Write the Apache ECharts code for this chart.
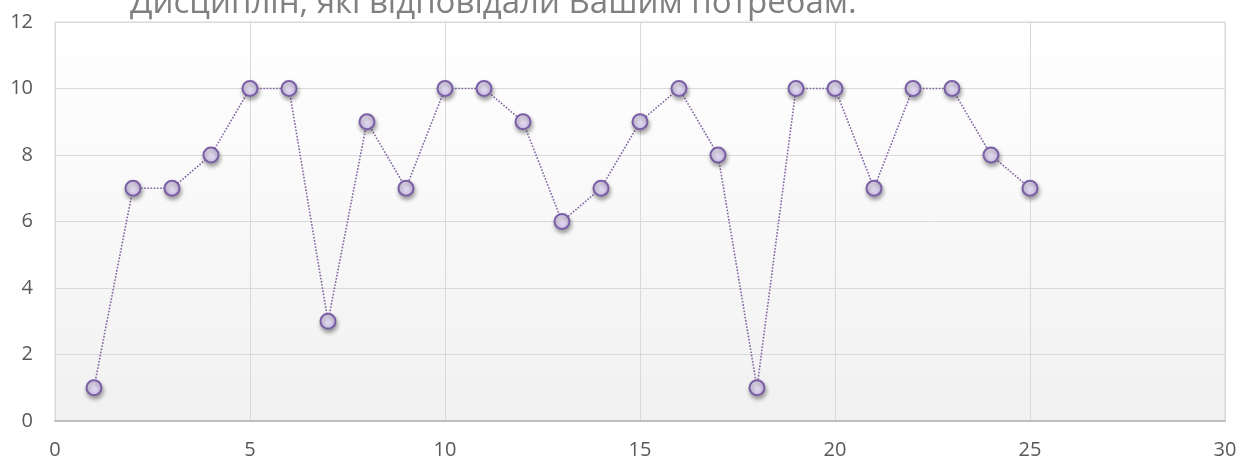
<!DOCTYPE html>
<html>
<head>
<meta charset="utf-8">
<script src="https://cdn.jsdelivr.net/npm/echarts@6/dist/echarts.min.js"></script>
<style>
  html, body { margin: 0; padding: 0; background: #fff; }
  #chart { width: 1251px; height: 462px; }
</style>
</head>
<body>
<div id="chart"></div>
<script>
// номери респондентів та їхні оцінки
const respondents = [1, 2, 3, 4, 5, 6, 7, 8, 9, 10, 11, 12, 13, 14, 15, 16, 17, 18, 19, 20, 21, 22, 23, 24, 25]
const scores = [1, 7, 7, 8, 10, 10, 3, 9, 7, 10, 10, 9, 6, 7, 9, 10, 8, 1, 10, 10, 7, 10, 10, 8, 7]
const titleText = 'Дисциплін, які відповідали Вашим потребам.'

const points = respondents.map((x, i) => [x, scores[i]])
const font = '"Open Sans", "Noto Sans", sans-serif'

const myChart = echarts.init(document.getElementById('chart'))
const option = {
  animation: false,
  title: {
    text: titleText,
    left: 125,
    top: -18,
    textStyle: { color: '#808080', fontSize: 33, fontWeight: 'normal', fontFamily: font }
  },
  grid: {
    left: 55,
    right: 26,
    top: 22,
    bottom: 41,
    show: true,
    borderColor: '#d9d9d9',
    borderWidth: 1,
    backgroundColor: new echarts.graphic.LinearGradient(0, 0, 0, 1, [
      { offset: 0, color: '#ffffff' },
      { offset: 1, color: '#f1f1f1' }
    ])
  },
  xAxis: {
    type: 'value',
    min: 0,
    max: 30,
    interval: 5,
    axisLine: { show: true, lineStyle: { color: '#bfbfbf', width: 2 } },
    axisTick: { show: false },
    splitLine: { show: true, lineStyle: { color: '#d9d9d9', width: 1 } },
    axisLabel: { color: '#595959', fontSize: 20, fontFamily: font, margin: 19 }
  },
  yAxis: {
    type: 'value',
    min: 0,
    max: 12,
    interval: 2,
    axisLine: { show: false },
    axisTick: { show: false },
    splitLine: { show: true, lineStyle: { color: '#d9d9d9', width: 1 } },
    axisLabel: { color: '#595959', fontSize: 20, fontFamily: font, margin: 22 }
  },
  series: [
    {
      type: 'line',
      data: points,
      symbol: 'circle',
      symbolSize: 15,
      lineStyle: { color: '#8064a2', width: 1.6, type: 'dotted' },
      itemStyle: {
        color: new echarts.graphic.RadialGradient(0.4, 0.35, 0.7, [
          { offset: 0, color: '#ece6f6' },
          { offset: 1, color: '#cbbde3' }
        ]),
        borderColor: '#7a5ea6',
        borderWidth: 2,
        shadowColor: 'rgba(0,0,0,0.35)',
        shadowBlur: 4,
        shadowOffsetX: 1,
        shadowOffsetY: 3
      },
      z: 3
    }
  ]
}
myChart.setOption(option)
</script>
</body>
</html>
